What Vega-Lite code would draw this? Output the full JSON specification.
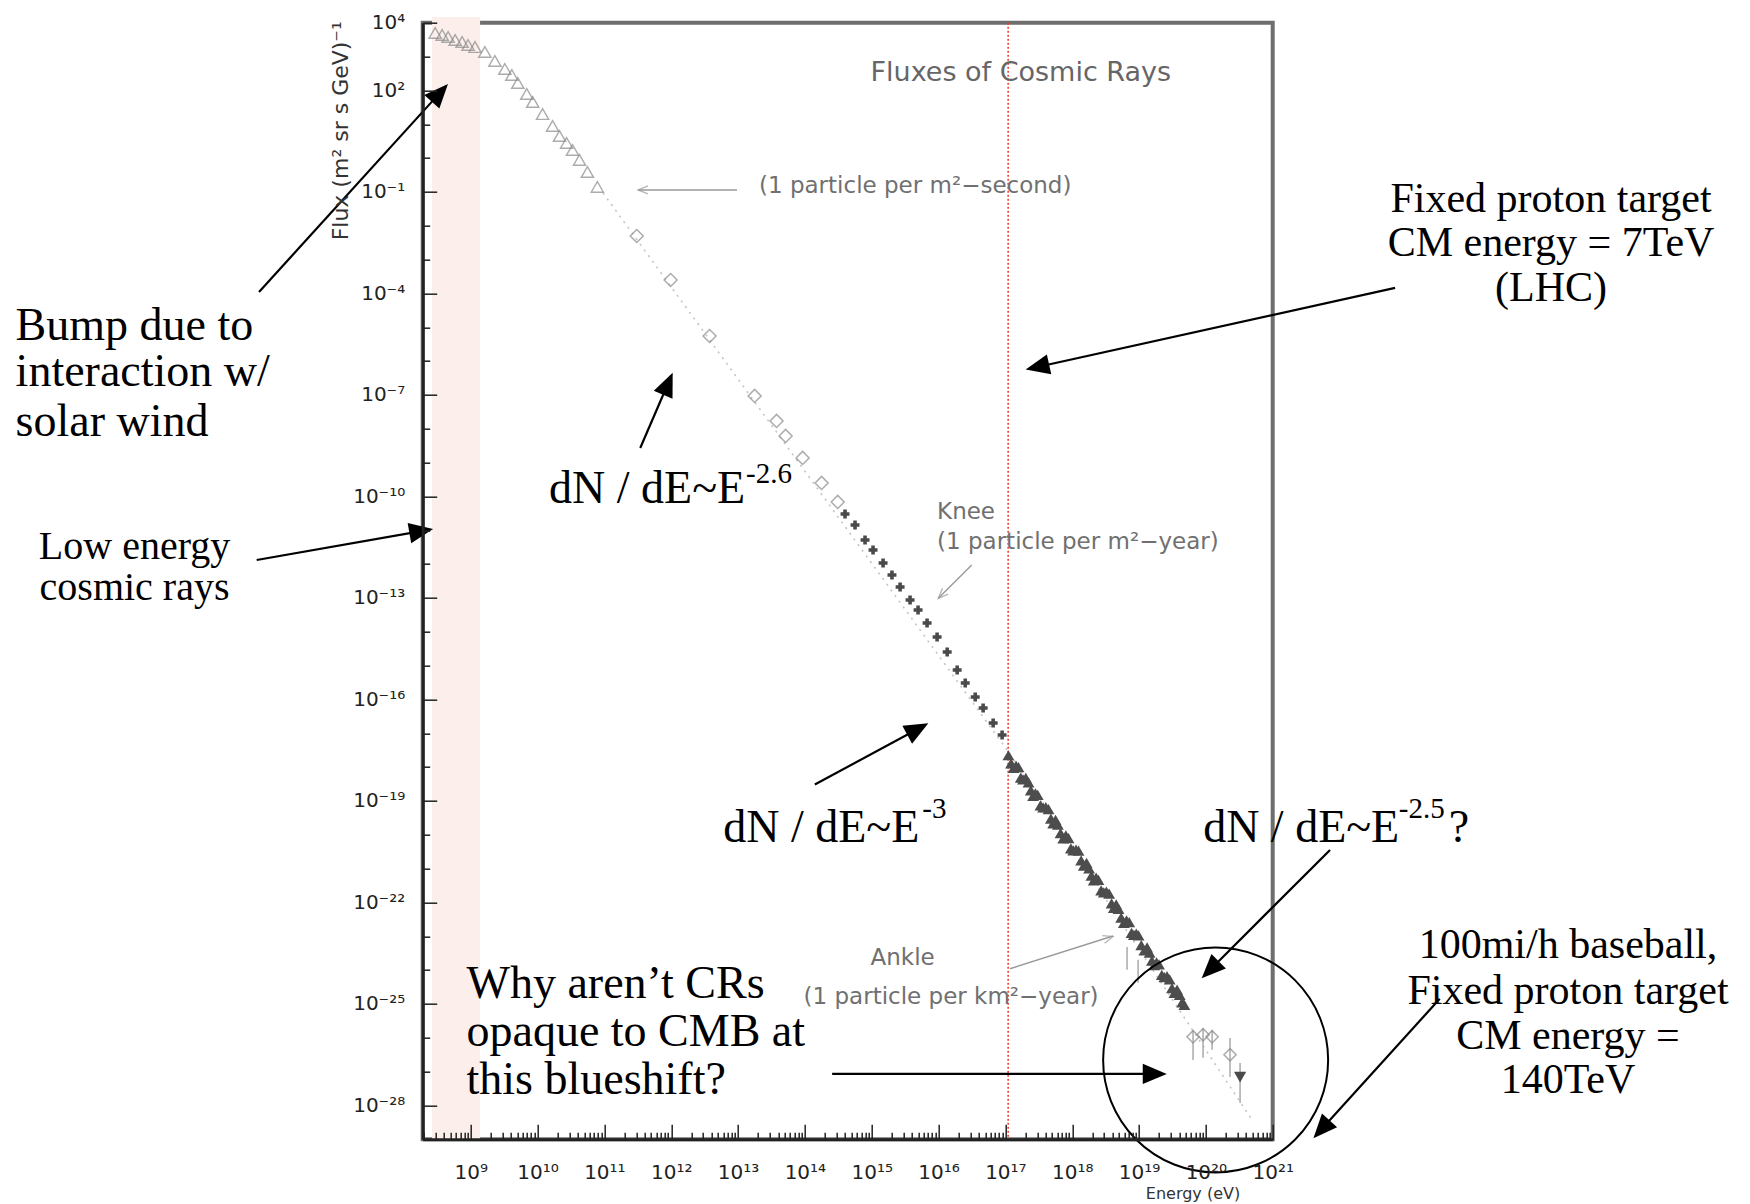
{
  "$schema": "https://vega.github.io/schema/vega-lite/v6.json",
  "width": 850,
  "height": 1116.6,
  "autosize": {"type": "none"},
  "padding": {"left": 422.7, "top": 22.7, "right": 477.3, "bottom": 64.7},
  "background": "white",
  "config": {"view": {"stroke": "#6e6e6e", "strokeWidth": 4}},
  "datasets": {
    "tri": [{"E":2.94e8,"F":4970},{"E":3.74e8,"F":4340},{"E":4.59e8,"F":3780},{"E":5.85e8,"F":3080},{"E":7.43e8,"F":2690},{"E":9.12e8,"F":2190},{"E":1.16e9,"F":1910},{"E":1.63e9,"F":1360},{"E":2.30e9,"F":738},{"E":3.24e9,"F":429},{"E":4.12e9,"F":285},{"E":5.07e9,"F":165},{"E":6.90e9,"F":78.2},{"E":8.47e9,"F":45.4},{"E":1.19e10,"F":20.0},{"E":1.68e10,"F":8.85},{"E":2.13e10,"F":4.49},{"E":2.72e10,"F":2.79},{"E":3.34e10,"F":1.73},{"E":4.25e10,"F":0.877},{"E":5.58e10,"F":0.387},{"E":7.85e10,"F":0.140}],
    "dia": [{"E":3.05e11,"F":4.98e-3},{"E":9.8e11,"F":2.49e-4},{"E":3.75e12,"F":5.52e-6},{"E":1.77e13,"F":9.33e-8},{"E":3.77e13,"F":1.70e-8},{"E":5.15e13,"F":6.12e-9},{"E":9.25e13,"F":1.37e-9},{"E":1.78e14,"F":2.50e-10},{"E":3.10e14,"F":6.87e-11}],
    "knee": [{"E":3.99e14,"F":3.03e-11},{"E":5.63e14,"F":1.43e-11},{"E":7.95e14,"F":5.15e-12},{"E":1.047e15,"F":2.61e-12},{"E":1.48e15,"F":1.08e-12},{"E":2.01e15,"F":4.76e-13},{"E":2.66e15,"F":2.10e-13},{"E":3.75e15,"F":8.69e-14},{"E":4.94e15,"F":4.40e-14},{"E":6.74e15,"F":1.82e-14},{"E":9.52e15,"F":7.00e-15},{"E":1.347e16,"F":2.52e-15},{"E":1.90e16,"F":7.41e-16},{"E":2.51e16,"F":3.06e-16},{"E":3.54e16,"F":1.18e-16},{"E":4.65e16,"F":5.58e-17},{"E":6.57e16,"F":2.01e-17},{"E":8.94e16,"F":8.89e-18}],
    "band": [{"E":1.11e17,"F":2.24e-18},{"E":1.33e17,"F":9.55e-19},{"E":1.57e17,"F":1.00e-18},{"E":1.84e17,"F":4.37e-19},{"E":2.22e17,"F":3.55e-19},{"E":2.60e17,"F":1.41e-19},{"E":3.05e17,"F":1.51e-19},{"E":3.67e17,"F":6.46e-20},{"E":4.42e17,"F":5.75e-20},{"E":5.19e17,"F":2.19e-20},{"E":6.11e17,"F":2.00e-20},{"E":7.34e17,"F":7.76e-21},{"E":8.81e17,"F":7.94e-21},{"E":1.036e18,"F":3.47e-21},{"E":1.243e18,"F":3.39e-21},{"E":1.49e18,"F":1.23e-21},{"E":1.79e18,"F":1.02e-21},{"E":2.10e18,"F":4.47e-22},{"E":2.47e18,"F":4.68e-22},{"E":2.97e18,"F":2.00e-22},{"E":3.57e18,"F":1.82e-22},{"E":4.20e18,"F":6.92e-23},{"E":4.94e18,"F":6.46e-23},{"E":5.93e18,"F":2.51e-23},{"E":7.13e18,"F":2.63e-23},{"E":8.37e18,"F":1.10e-23},{"E":9.84e18,"F":1.07e-23},{"E":1.20e19,"F":3.80e-24},{"E":1.44e19,"F":3.31e-24},{"E":1.69e19,"F":1.41e-24},{"E":1.99e19,"F":1.48e-24},{"E":2.39e19,"F":6.17e-25},{"E":2.87e19,"F":5.37e-25},{"E":3.38e19,"F":2.14e-25},{"E":4.06e19,"F":1.86e-25},{"E":4.77e19,"F":9.33e-26},
      {"E":1.217e17,"F":1.29e-18},{"E":1.443e17,"F":1.10e-18},{"E":1.70e17,"F":4.90e-19},{"E":2.02e17,"F":4.79e-19},{"E":2.40e17,"F":2.04e-19},{"E":2.82e17,"F":1.66e-19},{"E":3.35e17,"F":7.41e-20},{"E":4.03e17,"F":6.61e-20},{"E":4.80e17,"F":3.02e-20},{"E":5.63e17,"F":2.75e-20},{"E":6.69e17,"F":1.12e-20},{"E":8.04e17,"F":9.55e-21},{"E":9.56e17,"F":3.98e-21},{"E":1.14e18,"F":3.63e-21},{"E":1.36e18,"F":1.74e-21},{"E":1.64e18,"F":1.48e-21},{"E":1.94e18,"F":6.17e-22},{"E":2.28e18,"F":5.37e-22},{"E":2.71e18,"F":2.29e-22},{"E":3.25e18,"F":2.09e-22},{"E":3.88e18,"F":9.33e-23},{"E":4.55e18,"F":8.71e-23},{"E":5.41e18,"F":3.55e-23},{"E":6.50e18,"F":2.95e-23},{"E":7.73e18,"F":1.26e-23},{"E":9.09e18,"F":1.20e-23},{"E":1.08e19,"F":5.50e-24},{"E":1.32e19,"F":4.68e-24},{"E":1.56e19,"F":1.91e-24},{"E":1.83e19,"F":1.70e-24},{"E":2.19e19,"F":7.24e-25},{"E":2.62e19,"F":6.61e-25},{"E":3.11e19,"F":2.95e-25},{"E":3.71e19,"F":2.63e-25},{"E":4.41e19,"F":1.12e-25}],
    "fit": [{"E":9.55e10,"F":9.27e-2},{"E":1.06e17,"F":3.22e-18},{"E":4.91e20,"F":3.75e-29}],
    "errs": [{"E":6.62e18,"F":4.86e-24,"F2":1.02e-24},{"E":9.68e18,"F":2.01e-24,"F2":4.21e-25},{"E":6.43e19,"F":1.71e-26,"F2":2.22e-27},{"E":9.08e19,"F":1.9e-26,"F2":2.55e-27},{"E":1.24e20,"F":1.71e-26,"F2":4.4e-27},{"E":2.30e20,"F":9.9e-27,"F2":6.97e-28},{"E":3.25e20,"F":1.81e-27,"F2":1.19e-28}],
    "hiopen": [{"E":6.43e19,"F":1.07e-26},{"E":9.08e19,"F":1.23e-26},{"E":1.24e20,"F":1.07e-26},{"E":2.30e20,"F":3.16e-27}],
    "hidn": [{"E":3.25e20,"F":6.9e-28}],
    "grayArrows": [{"E":9.66e12,"F":0.114,"E2":3.19e11,"F2":0.114},{"E":3.14e16,"F":9.44e-13,"E2":9.93e15,"F2":9.77e-14},{"E":1.17e17,"F":1.10e-24,"E2":4.08e18,"F2":1.02e-23}],
    "blackArrows": [{"E":6.80e5,"F":1.10e-4,"E2":3.46e8,"F2":84.3},{"E":6.28e5,"F":1.32e-12,"E2":1.82e8,"F2":9.46e-12},{"E":3.44e11,"F":2.70e-9,"E2":8.93e11,"F2":2.13e-7},{"E":1.41e14,"F":3.05e-19,"E2":4.89e15,"F2":1.34e-17},{"E":7.21e21,"F":3.57e-21,"E2":1.16e20,"F2":1.03e-24},{"E":6.78e22,"F":1.45e-4,"E2":3.01e17,"F2":6.68e-7},{"E":2.56e14,"F":8.57e-28,"E2":1.72e19,"F2":8.57e-28},{"E":3.16e23,"F":1.42e-25,"E2":5.37e21,"F2":1.98e-29}],
    "serifLeft": [{"E":1.55e2,"F":1.09e-5,"t":"Bump due to"},{"E":1.55e2,"F":4.78e-7,"t":"interaction w/"},{"E":1.55e2,"F":1.59e-8,"t":"solar wind"},{"E":8.65e8,"F":3.82e-25,"t":"Why aren’t CRs"},{"E":8.65e8,"F":1.46e-26,"t":"opaque to CMB at"},{"E":8.65e8,"F":5.56e-28,"t":"this blueshift?"}],
    "powerLaws": [{"E":1.49e10,"F":1.66e-10,"t":"dN / dE~E"},{"E":6.0e12,"F":1.58e-20,"t":"dN / dE~E"},{"E":9.1e19,"F":1.58e-20,"t":"dN / dE~E"},{"E":4.3e23,"F":1.58e-20,"t":"?"}],
    "sups": [{"E":1.32e13,"F":4.61e-10,"t":"-2.6"},{"E":5.7e15,"F":5.81e-20,"t":"-3"},{"E":7.7e22,"F":5.81e-20,"t":"-2.5"}],
    "serifLow": [{"E":9.33e3,"F":3.21e-12,"t":"Low energy"},{"E":9.33e3,"F":1.97e-13,"t":"cosmic rays"}],
    "serifRight": [{"E":1.46e25,"F":6.15e-2,"t":"Fixed proton target"},{"E":1.46e25,"F":3.08e-3,"t":"CM energy = 7TeV"},{"E":1.46e25,"F":1.45e-4,"t":"(LHC)"},{"E":2.62e25,"F":5.56e-24,"t":"100mi/h baseball,"},{"E":2.62e25,"F":2.43e-25,"t":"Fixed proton target"},{"E":2.62e25,"F":1.14e-26,"t":"CM energy ="},{"E":2.62e25,"F":5.69e-28,"t":"140TeV"}],
    "rootText": [{"E":2.06e13,"F":0.149,"t":"(1 particle per m²−second)"},{"E":9.5e15,"F":3.48e-11,"t":"Knee"},{"E":9.5e15,"F":4.60e-12,"t":"(1 particle per m²−year)"},{"E":9.6e14,"F":2.36e-24,"t":"Ankle"},{"E":9.57e13,"F":1.65e-25,"t":"(1 particle per km²−year)"}]
  },
  "encoding": {
    "x": {"field": "E", "type": "quantitative",
      "scale": {"type": "log", "domain": [1.913e8, 1e21], "nice": false, "zero": false},
      "axis": {
        "orient": "bottom", "zindex": 2,
        "values": [2e8,3e8,4e8,5e8,6e8,7e8,8e8,9e8,1e9,2e9,3e9,4e9,5e9,6e9,7e9,8e9,9e9,1e10,2e10,3e10,4e10,5e10,6e10,7e10,8e10,9e10,1e11,2e11,3e11,4e11,5e11,6e11,7e11,8e11,9e11,1e12,2e12,3e12,4e12,5e12,6e12,7e12,8e12,9e12,1e13,2e13,3e13,4e13,5e13,6e13,7e13,8e13,9e13,1e14,2e14,3e14,4e14,5e14,6e14,7e14,8e14,9e14,1e15,2e15,3e15,4e15,5e15,6e15,7e15,8e15,9e15,1e16,2e16,3e16,4e16,5e16,6e16,7e16,8e16,9e16,1e17,2e17,3e17,4e17,5e17,6e17,7e17,8e17,9e17,1e18,2e18,3e18,4e18,5e18,6e18,7e18,8e18,9e18,1e19,2e19,3e19,4e19,5e19,6e19,7e19,8e19,9e19,1e20,2e20,3e20,4e20,5e20,6e20,7e20,8e20,9e20,1e21],
        "grid": false,
        "domainColor": "#222", "domainWidth": 3,
        "tickColor": "#222", "tickWidth": 1.5,
        "tickSize": {"condition": {"test": "abs(log(datum.value)/LN10 - round(log(datum.value)/LN10)) < 0.01", "value": -15}, "value": -7},
        "labelExpr": "abs(log(datum.value)/LN10 - round(log(datum.value)/LN10)) < 0.01 ? '10' + (round(log(datum.value)/LN10) < 0 ? '⁻' : '') + (abs(round(log(datum.value)/LN10)) >= 10 ? substring('⁰¹²³⁴⁵⁶⁷⁸⁹', floor(abs(round(log(datum.value)/LN10))/10), floor(abs(round(log(datum.value)/LN10))/10) + 1) : '') + substring('⁰¹²³⁴⁵⁶⁷⁸⁹', abs(round(log(datum.value)/LN10)) % 10, abs(round(log(datum.value)/LN10)) % 10 + 1) : ''",
        "labelFont": "DejaVu Sans", "labelFontSize": 20, "labelColor": "#222",
        "labelPadding": 38, "labelBaseline": "top", "labelOverlap": false, "labelFlush": false, "labelBound": false,
        "title": "Energy (eV)", "titleFont": "DejaVu Sans", "titleFontSize": 16, "titleFontWeight": "normal", "titleColor": "#333",
        "titleX": 817, "titleY": 54, "titleAlign": "right", "titleBaseline": "middle"
      }
    },
    "y": {"field": "F", "type": "quantitative",
      "scale": {"type": "log", "domain": [1e-29, 1e4], "nice": false, "zero": false},
      "axis": {
        "orient": "left", "zindex": 2,
        "values": [1e-29,1e-28,1e-27,1e-26,1e-25,1e-24,1e-23,1e-22,1e-21,1e-20,1e-19,1e-18,1e-17,1e-16,1e-15,1e-14,1e-13,1e-12,1e-11,1e-10,1e-9,1e-8,1e-7,1e-6,1e-5,1e-4,1e-3,1e-2,1e-1,1,10,100,1000,10000],
        "grid": false,
        "domainColor": "#222", "domainWidth": 3,
        "tickColor": "#222", "tickWidth": 1.5,
        "tickSize": {"condition": {"test": "round(log(datum.value)/LN10) == 4 || (2 - round(log(datum.value)/LN10)) % 3 == 0", "value": -14}, "value": -7},
        "labelExpr": "round(log(datum.value)/LN10) == 4 || (2 - round(log(datum.value)/LN10)) % 3 == 0 ? '10' + (round(log(datum.value)/LN10) < 0 ? '⁻' : '') + (abs(round(log(datum.value)/LN10)) >= 10 ? substring('⁰¹²³⁴⁵⁶⁷⁸⁹', floor(abs(round(log(datum.value)/LN10))/10), floor(abs(round(log(datum.value)/LN10))/10) + 1) : '') + substring('⁰¹²³⁴⁵⁶⁷⁸⁹', abs(round(log(datum.value)/LN10)) % 10, abs(round(log(datum.value)/LN10)) % 10 + 1) : ''",
        "labelFont": "DejaVu Sans", "labelFontSize": 20, "labelColor": "#222",
        "labelPadding": 32, "labelOverlap": false, "labelFlush": false, "labelBound": false,
        "title": "Flux (m² sr s GeV)⁻¹", "titleFont": "DejaVu Sans", "titleFontSize": 22, "titleFontWeight": "normal", "titleColor": "#333",
        "titleAngle": 270, "titleX": -82, "titleY": -2, "titleAlign": "right", "titleBaseline": "middle"
      }
    }
  },
  "layer": [
    {
      "data": {"values": [{"E":2.64e8,"E2":1.38e9,"F":1.48e4,"F2":1e-29}]},
      "mark": {"type": "rect", "color": "#fbeeeb"},
      "encoding": {"x2": {"field": "E2"}, "y2": {"field": "F2"}}
    },
    {
      "data": {"values": [{"E": 1.1e17, "F": 1e4, "F2": 1e-29}]},
      "mark": {"type": "rule", "color": "#ee3a22", "strokeWidth": 1.5, "strokeDash": [2, 2]},
      "encoding": {"y2": {"field": "F2"}}
    },
    {
      "data": {"name": "fit"},
      "mark": {"type": "line", "color": "#c4c4c4", "strokeWidth": 1.6, "strokeDash": [2, 5]},
      "encoding": {}
    },
    {
      "data": {"name": "tri"},
      "mark": {"type": "point", "shape": "triangle-up", "size": 150, "filled": false, "color": "#8a8a8a", "strokeWidth": 1.4}
    },
    {
      "data": {"name": "dia"},
      "mark": {"type": "point", "shape": "diamond", "size": 170, "filled": false, "color": "#8a8a8a", "strokeWidth": 1.5}
    },
    {
      "data": {"name": "knee"},
      "mark": {"type": "point", "shape": "cross", "size": 80, "filled": true, "color": "#4a4a4a", "opacity": 1}
    },
    {
      "data": {"name": "errs"},
      "mark": {"type": "rule", "color": "#aaaaaa", "strokeWidth": 1.5},
      "encoding": {"y2": {"field": "F2"}}
    },
    {
      "data": {"name": "band"},
      "mark": {"type": "point", "shape": "triangle-up", "size": 140, "filled": true, "color": "#4d4d4d", "opacity": 1}
    },
    {
      "data": {"name": "hiopen"},
      "mark": {"type": "point", "shape": "diamond", "size": 150, "filled": false, "color": "#8a8a8a", "strokeWidth": 1.5}
    },
    {
      "data": {"name": "hidn"},
      "mark": {"type": "point", "shape": "triangle-down", "size": 150, "filled": true, "color": "#4a4a4a", "opacity": 1}
    },
    {
      "data": {"name": "grayArrows"},
      "mark": {"type": "rule", "color": "#9a9a9a", "strokeWidth": 1.4},
      "encoding": {"x2": {"field": "E2"}, "y2": {"field": "F2"}}
    },
    {
      "data": {"values": [{"E": 3.79e11, "F": 0.114}]},
      "mark": {"type": "point", "shape": "M-0.8,1L0,-1L0.8,1", "size": 100, "filled": false, "color": "#9a9a9a", "strokeWidth": 1.4, "angle": -90}
    },
    {
      "data": {"values": [{"E": 1.12e16, "F": 1.24e-13}]},
      "mark": {"type": "point", "shape": "M-0.8,1L0,-1L0.8,1", "size": 100, "filled": false, "color": "#9a9a9a", "strokeWidth": 1.4, "angle": -135}
    },
    {
      "data": {"values": [{"E": 3.46e18, "F": 8.9e-24}]},
      "mark": {"type": "point", "shape": "M-0.8,1L0,-1L0.8,1", "size": 100, "filled": false, "color": "#9a9a9a", "strokeWidth": 1.4, "angle": 72.7}
    },
    {
      "data": {"values": [{"E": 9.6e14, "F": 337, "t": "Fluxes of Cosmic Rays"}]},
      "mark": {"type": "text", "align": "left", "baseline": "middle", "font": "DejaVu Sans", "fontSize": 27, "color": "#666666"},
      "encoding": {"text": {"field": "t"}}
    },
    {
      "data": {"name": "rootText"},
      "mark": {"type": "text", "align": "left", "baseline": "middle", "font": "DejaVu Sans", "fontSize": 23, "color": "#707070"},
      "encoding": {"text": {"field": "t"}}
    },
    {
      "data": {"name": "blackArrows"},
      "mark": {"type": "rule", "color": "#000000", "strokeWidth": 2.2},
      "encoding": {"x2": {"field": "E2"}, "y2": {"field": "F2"}}
    },
    {
      "data": {"values": [{"E": 3.46e8, "F": 84.3}]},
      "mark": {"type": "point", "shape": "M0,-1L0.85,1L-0.85,1Z", "size": 576, "filled": true, "color": "#000000", "opacity": 1, "angle": 42.3}
    },
    {
      "data": {"values": [{"E": 1.82e8, "F": 9.46e-12}]},
      "mark": {"type": "point", "shape": "M0,-1L0.85,1L-0.85,1Z", "size": 576, "filled": true, "color": "#000000", "opacity": 1, "angle": 80}
    },
    {
      "data": {"values": [{"E": 8.93e11, "F": 2.13e-7}]},
      "mark": {"type": "point", "shape": "M0,-1L0.85,1L-0.85,1Z", "size": 576, "filled": true, "color": "#000000", "opacity": 1, "angle": 23.4}
    },
    {
      "data": {"values": [{"E": 4.89e15, "F": 1.34e-17}]},
      "mark": {"type": "point", "shape": "M0,-1L0.85,1L-0.85,1Z", "size": 576, "filled": true, "color": "#000000", "opacity": 1, "angle": 61.6}
    },
    {
      "data": {"values": [{"E": 1.16e20, "F": 1.03e-24}]},
      "mark": {"type": "point", "shape": "M0,-1L0.85,1L-0.85,1Z", "size": 576, "filled": true, "color": "#000000", "opacity": 1, "angle": -135}
    },
    {
      "data": {"values": [{"E": 3.01e17, "F": 6.68e-7}]},
      "mark": {"type": "point", "shape": "M0,-1L0.85,1L-0.85,1Z", "size": 576, "filled": true, "color": "#000000", "opacity": 1, "angle": -102.5}
    },
    {
      "data": {"values": [{"E": 1.72e19, "F": 8.57e-28}]},
      "mark": {"type": "point", "shape": "M0,-1L0.85,1L-0.85,1Z", "size": 576, "filled": true, "color": "#000000", "opacity": 1, "angle": 90}
    },
    {
      "data": {"values": [{"E": 5.37e21, "F": 1.98e-29}]},
      "mark": {"type": "point", "shape": "M0,-1L0.85,1L-0.85,1Z", "size": 576, "filled": true, "color": "#000000", "opacity": 1, "angle": -137.8}
    },
    {
      "data": {"values": [{"E": 1.40e20, "F": 2.22e-27}]},
      "mark": {"type": "point", "shape": "circle", "size": 50625, "filled": false, "color": "#000000", "strokeWidth": 2, "opacity": 1}
    },
    {
      "data": {"name": "serifLeft"},
      "mark": {"type": "text", "align": "left", "baseline": "middle", "font": "Liberation Serif", "fontSize": 46, "color": "#000000"},
      "encoding": {"text": {"field": "t"}}
    },
    {
      "data": {"name": "powerLaws"},
      "mark": {"type": "text", "align": "left", "baseline": "middle", "font": "Liberation Serif", "fontSize": 46, "color": "#000000"},
      "encoding": {"text": {"field": "t"}}
    },
    {
      "data": {"name": "sups"},
      "mark": {"type": "text", "align": "left", "baseline": "middle", "font": "Liberation Serif", "fontSize": 29, "color": "#000000"},
      "encoding": {"text": {"field": "t"}}
    },
    {
      "data": {"name": "serifLow"},
      "mark": {"type": "text", "align": "center", "baseline": "middle", "font": "Liberation Serif", "fontSize": 40, "color": "#000000"},
      "encoding": {"text": {"field": "t"}}
    },
    {
      "data": {"name": "serifRight"},
      "mark": {"type": "text", "align": "center", "baseline": "middle", "font": "Liberation Serif", "fontSize": 42, "color": "#000000"},
      "encoding": {"text": {"field": "t"}}
    }
  ]
}
